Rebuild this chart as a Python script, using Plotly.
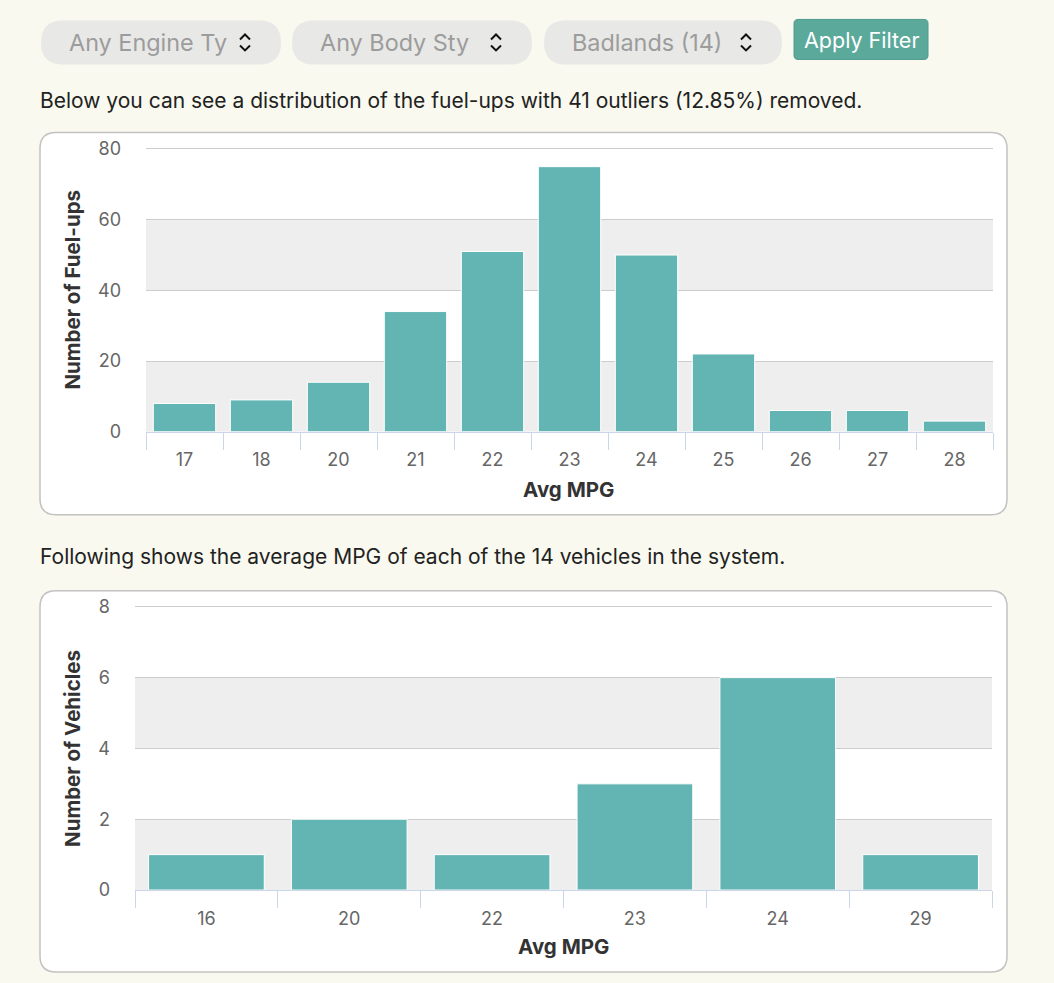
import plotly.graph_objects as go

W, H = 1054, 983

# ---- data ----
fuel_mpg = ["17", "18", "20", "21", "22", "23", "24", "25", "26", "27", "28"]
fuel_counts = [8, 9, 14, 34, 51, 75, 50, 22, 6, 6, 3]
fuel_yticks = [0, 20, 40, 60, 80]

veh_mpg = ["16", "20", "22", "23", "24", "29"]
veh_counts = [1, 2, 1, 3, 6, 1]
veh_yticks = [0, 2, 4, 6, 8]

dropdown_labels = ["Any Engine Ty", "Any Body Sty", "Badlands (14)"]
intro_text = "Below you can see a distribution of the fuel-ups with 41 outliers (12.85%) removed."
second_text = "Following shows the average MPG of each of the 14 vehicles in the system."

FONT = "Inter, Liberation Sans, Arial, sans-serif"
BAR = "#63b5b3"
BG = "#f9f9ef"

# vertical mapping observed in the screenshot pipeline
VA, VB = 0.982, 6.6


def px(x):
    return x / W


def py(y):
    return 1 - ((y - VB) / VA) / H


def rrect(x0, y0, x1, y1, r):
    pts = [
        f"M {px(x0 + r)},{py(y0)}",
        f"L {px(x1 - r)},{py(y0)}",
        f"Q {px(x1)},{py(y0)} {px(x1)},{py(y0 + r)}",
        f"L {px(x1)},{py(y1 - r)}",
        f"Q {px(x1)},{py(y1)} {px(x1 - r)},{py(y1)}",
        f"L {px(x0 + r)},{py(y1)}",
        f"Q {px(x0)},{py(y1)} {px(x0)},{py(y1 - r)}",
        f"L {px(x0)},{py(y0 + r)}",
        f"Q {px(x0)},{py(y0)} {px(x0 + r)},{py(y0)}",
        "Z",
    ]
    return " ".join(pts)


def text(x, y, s, size, color, xanchor="center", angle=0):
    return dict(x=px(x), y=py(y), xref="paper", yref="paper", xanchor=xanchor, yanchor="middle",
                text=s, showarrow=False, textangle=angle, font=dict(family=FONT, size=size, color=color))


shapes = []
annotations = []

# chart boxes
for (y0, y1) in [(132, 514), (590, 971)]:
    shapes.append(dict(type="path", xref="paper", yref="paper", path=rrect(40, y0, 1007, y1, 16),
                       fillcolor="white", line=dict(color="#c2c2c2", width=1.5), layer="below"))

# dropdown pills
pills = [(41, 281), (292, 532), (544, 782)]
for (x0, x1), lab in zip(pills, dropdown_labels):
    shapes.append(dict(type="path", xref="paper", yref="paper", path=rrect(x0, 20, x1, 64, 22),
                       fillcolor="#e8e8e6", line=dict(width=0), layer="below"))
    annotations.append(text(x0 + 26, 42, lab, 23.4, "#9c9c9c", xanchor="left"))
    cx = x1 - 36
    shapes.append(dict(type="path", xref="paper", yref="paper",
                       path=f"M {px(cx-5)},{py(39)} L {px(cx)},{py(34)} L {px(cx+5)},{py(39)}",
                       line=dict(color="#111", width=2)))
    shapes.append(dict(type="path", xref="paper", yref="paper",
                       path=f"M {px(cx-5)},{py(45)} L {px(cx)},{py(50)} L {px(cx+5)},{py(45)}",
                       line=dict(color="#111", width=2)))

# Apply Filter button
shapes.append(dict(type="path", xref="paper", yref="paper", path=rrect(794, 19, 928, 59, 4),
                   fillcolor="#5ba99b", line=dict(color="#4d9a8c", width=1), layer="below"))
annotations.append(text(861, 40, "Apply Filter", 21.5, "white"))

# texts
annotations.append(text(38, 100, intro_text, 21, "#222", xanchor="left"))
annotations.append(text(38, 556, second_text, 21, "#222", xanchor="left"))

# alternating bands
for lo, hi in [(0, 20), (40, 60)]:
    shapes.append(dict(type="rect", xref="x domain", yref="y", x0=0, x1=1, y0=lo, y1=hi,
                       fillcolor="#eeeeee", line=dict(width=0), layer="below"))
for lo, hi in [(0, 2), (4, 6)]:
    shapes.append(dict(type="rect", xref="x2 domain", yref="y2", x0=0, x1=1, y0=lo, y1=hi,
                       fillcolor="#eeeeee", line=dict(width=0), layer="below"))

# axis titles
annotations.append(text(568, 489, "<b>Avg MPG</b>", 20.5, "#333"))
annotations.append(text(73, 289, "<b>Number of Fuel-ups</b>", 20.5, "#333", angle=-90))
annotations.append(text(563, 945, "<b>Avg MPG</b>", 20.5, "#333"))
annotations.append(text(73, 748, "<b>Number of Vehicles</b>", 20.5, "#333", angle=-90))

fig = go.Figure()
fig.add_trace(go.Bar(x=fuel_mpg, y=fuel_counts, marker=dict(color=BAR, line=dict(color="white", width=1)),
                     xaxis="x", yaxis="y", hoverinfo="x+y"))
fig.add_trace(go.Bar(x=veh_mpg, y=veh_counts, marker=dict(color=BAR, line=dict(color="white", width=1)),
                     xaxis="x2", yaxis="y2", hoverinfo="x+y"))

xcommon = dict(type="category", showgrid=False, showline=True, linecolor="#ccd6eb", linewidth=1,
               ticks="outside", tickson="boundaries", ticklen=17, tickcolor="#ccd6eb", tickwidth=1,
               ticklabelstandoff=12,
               tickfont=dict(family=FONT, size=18, color="#666"), fixedrange=True)
ycommon = dict(showgrid=True, gridcolor="#cccccc", gridwidth=1, zeroline=False, showline=False,
               ticks="", ticklabelstandoff=24,
               tickfont=dict(family=FONT, size=18, color="#666"), fixedrange=True)

# y ranges extend a touch past the top tick so its gridline is drawn
y1_top = fuel_yticks[-1] * 1.0125
y2_top = veh_yticks[-1] * 1.0125
y1_top_px = 431 - (431 - 148.5) / fuel_yticks[-1] * y1_top
y2_top_px = 889 - (889 - 606) / veh_yticks[-1] * y2_top

fig.update_layout(
    width=W, height=H, margin=dict(l=0, r=0, t=0, b=0),
    paper_bgcolor=BG, plot_bgcolor="rgba(0,0,0,0)", showlegend=False, bargap=0.19,
    xaxis=dict(domain=[px(146), px(993)], anchor="y", **xcommon),
    yaxis=dict(domain=[py(431), py(y1_top_px)], anchor="x", range=[0, y1_top], tickvals=fuel_yticks, **ycommon),
    xaxis2=dict(domain=[px(135), px(992)], anchor="y2", **xcommon),
    yaxis2=dict(domain=[py(889), py(y2_top_px)], anchor="x2", range=[0, y2_top], tickvals=veh_yticks, **ycommon),
    shapes=shapes, annotations=annotations,
)

fig.write_html("out.html")
